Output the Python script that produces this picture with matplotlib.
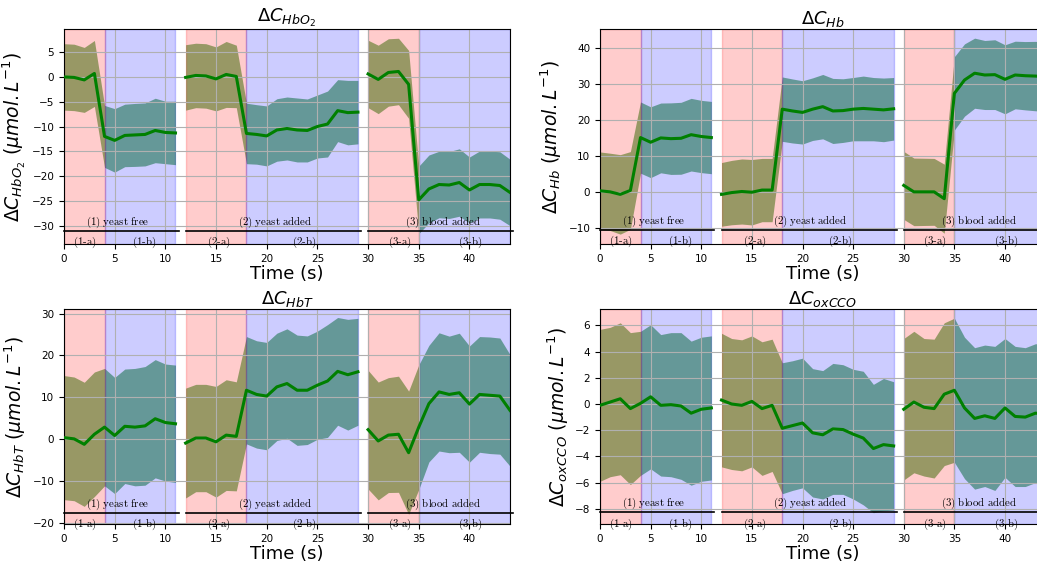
import numpy as np
import matplotlib
matplotlib.use("Agg")
from matplotlib import pyplot as plt

# time axis: three recording segments with a 1 s gap in between
seg_times = [np.arange(0, 12), np.arange(12, 30), np.arange(30, 45)]

# mean concentration change and its spread (sd), one array per segment
hbo2_mean = [
    [0.0, -0.1, -0.6, 0.7, -12.0, -12.8, -11.8, -11.7, -11.6, -10.8, -11.2, -11.3],
    [-0.1, 0.3, 0.2, -0.4, 0.5, 0.1, -11.4, -11.6, -11.9, -10.7, -10.4, -10.7, -10.8, -10.0, -9.5, -6.8, -7.2, -7.1],
    [0.6, -0.5, 0.9, 1.1, -1.5, -24.8, -22.6, -21.7, -21.8, -21.3, -22.8, -21.7, -21.7, -21.9, -23.3],
]
hbo2_sd = [
    [6.7, 6.7, 6.55, 6.65, 6.25, 6.4, 6.3, 6.35, 6.35, 6.5, 6.3, 6.4],
    [6.6, 6.5, 6.5, 6.45, 6.65, 6.3, 6.1, 6.0, 6.05, 6.3, 6.35, 6.45, 6.35, 6.35, 6.65, 6.25, 6.5, 6.4],
    [6.8, 6.9, 6.8, 6.7, 6.85, 6.8, 6.85, 6.7, 6.75, 6.8, 6.65, 6.75, 6.75, 6.8, 6.7],
]

hb_mean = [
    [0.4, 0.1, -0.6, 0.5, 15.2, 13.9, 15.1, 14.9, 15.0, 16.0, 15.5, 15.2],
    [-0.6, -0.1, 0.2, 0.0, 0.6, 0.6, 23.1, 22.6, 22.2, 23.1, 23.8, 22.6, 22.7, 23.1, 23.3, 23.1, 22.9, 23.2],
    [1.9, 0.1, 0.1, 0.1, -1.8, 27.5, 31.2, 33.1, 32.6, 32.7, 31.4, 32.6, 32.4, 32.3, 32.1],
]
hb_sd = [
    [10.8, 10.75, 11.05, 10.8, 9.9, 9.85, 9.7, 9.95, 10.0, 10.1, 10.05, 10.05],
    [8.85, 8.95, 9.05, 9.1, 8.8, 8.8, 8.95, 8.9, 8.8, 8.7, 8.95, 9.05, 8.85, 8.8, 9.0, 8.8, 8.85, 8.7],
    [9.45, 9.4, 9.35, 9.3, 9.6, 10.2, 10.05, 9.75, 9.6, 9.7, 9.6, 9.4, 9.5, 9.65, 9.7],
]

hbt_mean = [
    [0.4, 0.1, -1.2, 1.2, 2.9, 0.9, 3.1, 2.9, 3.2, 4.9, 4.0, 3.7],
    [-0.9, 0.3, 0.3, -0.6, 1.0, 0.7, 11.7, 10.7, 10.3, 12.5, 13.3, 11.7, 11.7, 12.9, 13.9, 16.2, 15.4, 16.1],
    [2.3, -0.4, 1.0, 1.2, -3.2, 2.9, 8.5, 11.3, 10.7, 11.1, 8.4, 10.7, 10.5, 10.3, 6.9],
]
hbt_sd = [
    [14.8, 14.75, 14.8, 14.85, 14.0, 13.85, 13.65, 14.0, 14.15, 14.1, 13.95, 14.0],
    [13.1, 12.8, 12.8, 13.2, 13.2, 13.0, 12.8, 12.8, 12.8, 12.8, 13.05, 13.15, 12.95, 12.9, 13.45, 12.85, 13.2, 12.75],
    [14.15, 14.05, 13.7, 13.85, 14.7, 14.85, 13.9, 14.1, 13.9, 14.2, 13.85, 13.8, 13.9, 13.85, 13.3],
]

cco_mean = [
    [-0.1, 0.15, 0.4, -0.35, 0.05, 0.55, -0.1, -0.05, -0.15, -0.7, -0.4, -0.3],
    [0.3, 0.0, -0.1, 0.2, -0.35, -0.1, -1.85, -1.65, -1.45, -2.2, -2.35, -1.9, -1.95, -2.3, -2.6, -3.4, -3.1, -3.2],
    [-0.4, 0.15, -0.25, -0.35, 0.75, 1.05, -0.3, -1.1, -0.9, -1.1, -0.3, -0.95, -1.0, -0.7, -0.75],
]
cco_sd = [
    [5.8, 5.7, 5.8, 5.8, 5.5, 5.5, 5.4, 5.5, 5.6, 5.5, 5.5, 5.5],
    [5.1, 5.0, 5.0, 5.0, 5.1, 5.05, 5.0, 4.95, 4.95, 4.9, 4.9, 5.0, 4.95, 4.95, 5.1, 4.9, 5.05, 4.9],
    [5.4, 5.4, 5.25, 5.3, 5.45, 5.5, 5.4, 5.4, 5.4, 5.5, 5.3, 5.35, 5.3, 5.3, 5.35],
]

# phase boundaries (a = before, b = after) for each segment
phase_a = [(0, 4), (12, 18), (30, 35)]
phase_b = [(4, 11), (18, 29), (35, 44)]
seg_names = ["(1) yeast free", "(2) yeast added", "(3) blood added"]
seg_label_x = [5.3, 20.8, 37.4]
sub_names = ["(1-a)", "(1-b)", "(2-a)", "(2-b)", "(3-a)", "(3-b)"]
sub_label_x = [2.1, 7.9, 15.3, 23.7, 33.1, 40.1]

panels = [
    (r"$\Delta C_{HbO_2}$", hbo2_mean, hbo2_sd, (-33.7, 9.6), np.arange(-30, 6, 5), -31.0),
    (r"$\Delta C_{Hb}$", hb_mean, hb_sd, (-14.4, 45.3), np.arange(-10, 41, 10), -10.5),
    (r"$\Delta C_{HbT}$", hbt_mean, hbt_sd, (-20.2, 31.0), np.arange(-20, 31, 10), -17.5),
    (r"$\Delta C_{oxCCO}$", cco_mean, cco_sd, (-9.16, 7.23), np.arange(-8, 7, 2), -8.27),
]


def cm(s):
    # latex-looking label (computer modern roman)
    return r"$\mathrm{" + s.replace(" ", r"\ ").replace("-", r"\text{-}") + "}$"


fig = plt.figure(figsize=(10.37, 5.63), dpi=100)
positions = [
    [0.0617, 0.5666, 0.4301, 0.3813],
    [0.5786, 0.5666, 0.4296, 0.3813],
    [0.0617, 0.0693, 0.4301, 0.3813],
    [0.5786, 0.0693, 0.4296, 0.3813],
]

for pos, (name, means, sds, ylim, yticks, yline) in zip(positions, panels):
    ax = fig.add_axes(pos)

    # spread first, so the coloured phase spans tint it
    for t, m, s in zip(seg_times, means, sds):
        m = np.array(m)
        s = np.array(s)
        ax.fill_between(t, m - s, m + s, color="green", alpha=0.5, linewidth=0)

    for (a0, a1), (b0, b1) in zip(phase_a, phase_b):
        ax.axvspan(a0, a1, color="red", alpha=0.2)
        ax.axvspan(b0, b1, color="blue", alpha=0.2)

    for t, m in zip(seg_times, means):
        ax.plot(t, m, color="green", linewidth=2.2, zorder=3)

    # segment bars with labels
    for t, lab, lx in zip(seg_times, seg_names, seg_label_x):
        ax.plot([t[0], t[-1] + 0.3], [yline, yline], color="black", linewidth=1.2,
                clip_on=False, zorder=4)
        ax.annotate(cm(lab), xy=(lx, yline), xytext=(0, 0.8), textcoords="offset points",
                    ha="center", va="bottom", fontsize=7.8, math_fontfamily="cm")
    for lab, lx in zip(sub_names, sub_label_x):
        ax.annotate(cm(lab), xy=(lx, yline), xytext=(0, -8.5), textcoords="offset points",
                    ha="center", va="center", fontsize=7.8, math_fontfamily="cm",
                    annotation_clip=False)

    ax.set_xlim(0, 44)
    ax.set_ylim(*ylim)
    ax.set_xticks(np.arange(0, 45, 5))
    ax.set_yticks(yticks)
    ax.tick_params(labelsize=7.5)
    ax.grid(True)
    ax.set_title(name, fontsize=13, pad=3)
    ax.set_xlabel("Time (s)", fontsize=13, labelpad=1)
    ax.set_ylabel(name + r" $(\mu mol.L^{-1})$", fontsize=13.5, labelpad=3)

fig.savefig("out.png", dpi=100)
